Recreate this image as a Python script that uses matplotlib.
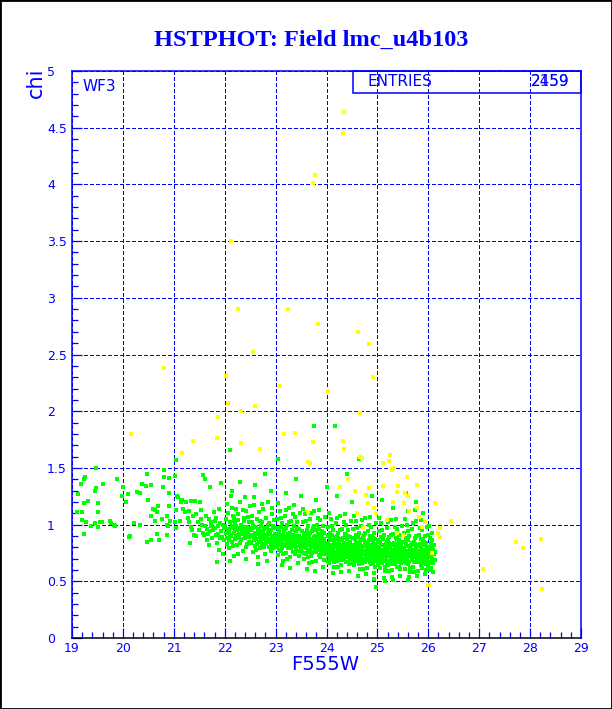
import matplotlib
matplotlib.use("Agg")
import matplotlib.pyplot as plt
from matplotlib.patches import Rectangle
from matplotlib.ticker import MultipleLocator, FuncFormatter

# ---- data ----
title = "HSTPHOT: Field lmc_u4b103"
x_label = "F555W"
y_label = "chi"
chip = "WF3"
entries = "2459"

green_19_22 = [
    (19.47, 1.50), (19.26, 1.42), (19.24, 1.40), (19.18, 1.36), (19.61, 1.36), (19.45, 1.30),
    (19.47, 1.32), (19.88, 1.40), (19.98, 1.25), (20.10, 1.27), (19.12, 1.27), (19.32, 1.21),
    (19.51, 1.19), (19.24, 1.19), (19.10, 1.11), (19.20, 1.11), (19.51, 1.11), (19.20, 1.04),
    (19.37, 0.99), (19.45, 1.01), (19.51, 0.98), (19.55, 1.02), (19.58, 1.02), (19.75, 1.03),
    (19.77, 1.01), (19.82, 1.00), (19.85, 0.99), (19.24, 0.92), (19.28, 1.02), (20.00, 1.33),
    (20.06, 1.20), (20.12, 0.89), (20.14, 0.90), (20.22, 1.01), (20.28, 1.29), (20.33, 1.28),
    (20.37, 1.36), (20.45, 1.34), (20.47, 1.45), (20.49, 1.22), (20.34, 1.00), (20.47, 0.85),
    (20.55, 0.86), (20.55, 1.35), (20.71, 0.86), (20.67, 0.92), (20.63, 1.03), (20.60, 1.14),
    (20.67, 1.11), (20.63, 1.13), (20.55, 1.08), (20.69, 1.16), (20.77, 1.05), (20.79, 1.33),
    (20.81, 1.48), (20.86, 0.91), (20.86, 1.00), (20.88, 0.99), (20.90, 1.28), (20.87, 1.08),
    (20.90, 1.41), (20.93, 1.03), (20.91, 1.16), (21.02, 1.43), (21.04, 1.57), (21.05, 1.13),
    (21.03, 1.02), (21.05, 0.97), (21.06, 1.25), (21.08, 1.24), (21.14, 1.21), (21.15, 1.20),
    (21.17, 1.22), (21.19, 1.14), (21.32, 0.84), (21.22, 1.11), (21.24, 1.20), (21.30, 1.12),
    (21.34, 1.21), (21.30, 1.02), (21.34, 0.98), (21.38, 1.08), (21.42, 1.21), (21.43, 1.09),
    (21.39, 0.91), (21.43, 0.90), (21.49, 0.95), (21.52, 1.20), (21.53, 1.13), (21.54, 1.05),
    (21.56, 1.00), (21.60, 0.91), (21.58, 1.44), (21.61, 1.40), (21.63, 1.08), (21.65, 0.96),
    (21.66, 0.86), (21.69, 1.05), (21.71, 1.33), (21.71, 0.94), (21.73, 0.99), (21.75, 0.88),
    (21.78, 1.11), (21.80, 1.03), (21.81, 0.97), (21.82, 0.91), (21.84, 0.84), (21.84, 0.67),
    (21.86, 0.99), (21.89, 0.78), (21.90, 0.88), (21.92, 1.37), (21.93, 0.94), (21.96, 1.00),
    (21.97, 0.74), (21.98, 0.86), (21.62, 0.99), (21.68, 0.92), (21.74, 1.02), (21.77, 0.95),
    (21.83, 1.06), (21.87, 0.92), (21.91, 1.01), (21.94, 0.89), (21.99, 0.97), (21.57, 0.93),
    (21.47, 1.02), (21.36, 0.95), (21.27, 1.06), (21.12, 1.03), (21.70, 0.82), (21.88, 1.14),
]

green_22_23 = [
    (22.02, 1.05), (22.04, 0.88), (22.05, 1.18), (22.07, 0.96), (22.08, 0.79), (22.10, 1.02),
    (22.11, 0.91), (22.12, 1.25), (22.14, 0.85), (22.15, 0.99), (22.16, 1.08), (22.18, 0.93),
    (22.19, 0.72), (22.20, 1.01), (22.21, 0.87), (22.23, 1.14), (22.24, 0.95), (22.25, 0.82),
    (22.27, 1.04), (22.28, 0.90), (22.29, 0.97), (22.31, 1.20), (22.32, 0.86), (22.33, 1.00),
    (22.35, 0.92), (22.36, 0.77), (22.37, 1.06), (22.39, 0.95), (22.40, 0.88), (22.41, 1.12),
    (22.43, 0.98), (22.44, 0.83), (22.45, 0.93), (22.47, 1.02), (22.48, 0.89), (22.49, 1.16),
    (22.03, 0.93), (22.06, 1.10), (22.09, 0.86), (22.13, 0.97), (22.17, 0.81), (22.22, 0.99),
    (22.26, 1.09), (22.30, 0.84), (22.34, 0.94), (22.38, 1.03), (22.42, 0.80), (22.46, 0.96),
    (22.01, 0.99), (22.12, 0.90), (22.18, 1.03), (22.24, 0.88), (22.29, 0.92), (22.36, 0.98),
    (22.44, 0.90), (22.08, 0.94), (22.20, 0.95), (22.33, 0.87), (22.47, 0.85), (22.15, 1.30),
    (22.39, 1.24), (22.27, 0.74), (22.11, 0.68), (22.42, 0.70), (22.05, 0.83), (22.23, 0.91),
    (22.35, 1.13), (22.48, 0.97), (22.14, 1.15), (22.31, 0.96), (22.40, 0.93), (22.19, 1.07),
    (22.26, 0.97), (22.45, 1.07),
    (22.51, 0.95), (22.52, 0.84), (22.53, 1.08), (22.54, 0.91), (22.55, 0.76), (22.56, 1.00),
    (22.57, 0.88), (22.58, 1.17), (22.59, 0.93), (22.60, 0.81), (22.61, 0.98), (22.62, 0.87),
    (22.63, 1.05), (22.64, 0.92), (22.65, 0.71), (22.66, 0.96), (22.67, 0.85), (22.68, 1.11),
    (22.69, 0.90), (22.70, 0.79), (22.71, 0.99), (22.72, 0.86), (22.73, 1.02), (22.74, 0.94),
    (22.75, 0.83), (22.76, 1.14), (22.77, 0.89), (22.78, 0.96), (22.79, 0.74), (22.80, 0.91),
    (22.81, 1.06), (22.82, 0.84), (22.83, 0.97), (22.84, 0.88), (22.85, 1.20), (22.86, 0.93),
    (22.87, 0.80), (22.88, 1.01), (22.89, 0.87), (22.90, 0.95), (22.91, 0.77), (22.92, 1.09),
    (22.93, 0.90), (22.94, 0.83), (22.95, 0.99), (22.96, 0.86), (22.97, 1.04), (22.98, 0.92),
    (22.99, 0.81), (22.52, 0.90), (22.55, 0.97), (22.58, 0.86), (22.61, 0.92), (22.64, 0.83),
    (22.67, 0.95), (22.70, 0.89), (22.73, 0.82), (22.76, 0.93), (22.79, 0.87), (22.82, 0.91),
    (22.85, 0.85), (22.88, 0.94), (22.91, 0.84), (22.94, 0.90), (22.97, 0.88), (22.57, 1.24),
    (22.66, 0.65), (22.74, 1.18), (22.83, 0.68), (22.92, 1.15), (22.54, 1.02), (22.62, 0.78),
    (22.69, 1.03), (22.77, 0.80), (22.86, 1.00), (22.95, 0.79), (22.60, 0.89), (22.71, 0.93),
    (22.80, 0.97), (22.89, 0.92), (22.98, 0.97),
]

green_23_24 = [
    (23.01, 0.92), (23.02, 0.80), (23.03, 1.05), (23.04, 0.87), (23.05, 0.73), (23.06, 0.95),
    (23.07, 0.83), (23.08, 1.12), (23.09, 0.89), (23.10, 0.77), (23.11, 0.98), (23.12, 0.85),
    (23.13, 1.01), (23.14, 0.91), (23.15, 0.68), (23.16, 0.94), (23.17, 0.81), (23.18, 1.08),
    (23.19, 0.88), (23.20, 0.75), (23.21, 0.97), (23.22, 0.84), (23.23, 1.00), (23.24, 0.90),
    (23.25, 0.79), (23.26, 1.15), (23.27, 0.86), (23.28, 0.93), (23.29, 0.71), (23.30, 0.88),
    (23.31, 1.03), (23.32, 0.82), (23.33, 0.95), (23.34, 0.87), (23.35, 0.76), (23.36, 0.99),
    (23.37, 0.83), (23.38, 1.07), (23.39, 0.90), (23.40, 0.78), (23.41, 0.94), (23.42, 0.85),
    (23.43, 1.02), (23.44, 0.89), (23.45, 0.72), (23.46, 0.96), (23.47, 0.81), (23.48, 1.10),
    (23.49, 0.87), (23.01, 0.84), (23.03, 0.90), (23.05, 0.86), (23.07, 0.93), (23.09, 0.82),
    (23.11, 0.88), (23.13, 0.79), (23.15, 0.91), (23.17, 0.87), (23.19, 0.83), (23.21, 0.90),
    (23.23, 0.86), (23.25, 0.92), (23.27, 0.80), (23.29, 0.89), (23.31, 0.85), (23.33, 0.81),
    (23.35, 0.91), (23.37, 0.88), (23.39, 0.84), (23.41, 0.80), (23.43, 0.87), (23.45, 0.90),
    (23.47, 0.86), (23.49, 0.79), (23.02, 0.97), (23.06, 0.78), (23.10, 1.06), (23.14, 0.74),
    (23.18, 0.96), (23.22, 0.70), (23.26, 1.02), (23.30, 0.79), (23.34, 1.09), (23.38, 0.74),
    (23.42, 0.97), (23.46, 0.77), (23.04, 1.19), (23.12, 0.64), (23.20, 1.13), (23.28, 0.62),
    (23.36, 1.17), (23.44, 0.66), (23.08, 0.86), (23.16, 0.88), (23.24, 0.83), (23.32, 0.89),
    (23.40, 0.86), (23.48, 0.84),
    (23.51, 0.88), (23.52, 0.76), (23.53, 1.02), (23.54, 0.84), (23.55, 0.70), (23.56, 0.93),
    (23.57, 0.80), (23.58, 1.09), (23.59, 0.86), (23.60, 0.74), (23.61, 0.95), (23.62, 0.82),
    (23.63, 0.99), (23.64, 0.88), (23.65, 0.66), (23.66, 0.91), (23.67, 0.78), (23.68, 1.05),
    (23.69, 0.85), (23.70, 0.72), (23.71, 0.94), (23.72, 0.81), (23.73, 0.97), (23.74, 0.87),
    (23.75, 0.76), (23.76, 1.12), (23.77, 0.83), (23.78, 0.90), (23.79, 0.68), (23.80, 0.86),
    (23.81, 1.00), (23.82, 0.79), (23.83, 0.92), (23.84, 0.84), (23.85, 0.73), (23.86, 0.96),
    (23.87, 0.80), (23.88, 1.04), (23.89, 0.87), (23.90, 0.75), (23.91, 0.91), (23.92, 0.82),
    (23.93, 0.99), (23.94, 0.86), (23.95, 0.69), (23.96, 0.93), (23.97, 0.78), (23.98, 1.07),
    (23.99, 0.84), (23.51, 0.81), (23.53, 0.87), (23.55, 0.83), (23.57, 0.90), (23.59, 0.79),
    (23.61, 0.85), (23.63, 0.76), (23.65, 0.88), (23.67, 0.84), (23.69, 0.80), (23.71, 0.87),
    (23.73, 0.83), (23.75, 0.89), (23.77, 0.77), (23.79, 0.86), (23.81, 0.82), (23.83, 0.78),
    (23.85, 0.88), (23.87, 0.85), (23.89, 0.81), (23.91, 0.77), (23.93, 0.84), (23.95, 0.87),
    (23.97, 0.83), (23.99, 0.76), (23.52, 0.94), (23.56, 0.75), (23.60, 1.03), (23.64, 0.71),
    (23.68, 0.93), (23.72, 0.67), (23.76, 0.99), (23.80, 0.76), (23.84, 1.06), (23.88, 0.71),
    (23.92, 0.94), (23.96, 0.74), (23.54, 1.14), (23.62, 0.61), (23.70, 1.10), (23.78, 0.59),
    (23.86, 1.13), (23.94, 0.63), (23.58, 0.82), (23.66, 0.85), (23.74, 0.80), (23.82, 0.86),
    (23.90, 0.83), (23.98, 0.80), (23.55, 0.89), (23.63, 0.92), (23.71, 0.75), (23.79, 0.95),
    (23.87, 0.91), (23.95, 0.79),
]

green_24_25 = [
    (24.01, 0.84), (24.02, 0.72), (24.03, 0.98), (24.04, 0.80), (24.05, 0.66), (24.06, 0.89),
    (24.07, 0.76), (24.08, 1.05), (24.09, 0.82), (24.10, 0.70), (24.11, 0.91), (24.12, 0.78),
    (24.13, 0.95), (24.14, 0.84), (24.15, 0.63), (24.16, 0.87), (24.17, 0.74), (24.18, 1.01),
    (24.19, 0.81), (24.20, 0.68), (24.21, 0.90), (24.22, 0.77), (24.23, 0.93), (24.24, 0.83),
    (24.25, 0.72), (24.26, 1.08), (24.27, 0.79), (24.28, 0.86), (24.29, 0.64), (24.30, 0.82),
    (24.31, 0.96), (24.32, 0.75), (24.33, 0.88), (24.34, 0.80), (24.35, 0.69), (24.36, 0.92),
    (24.37, 0.76), (24.38, 1.00), (24.39, 0.83), (24.40, 0.71), (24.41, 0.87), (24.42, 0.78),
    (24.43, 0.95), (24.44, 0.82), (24.45, 0.65), (24.46, 0.89), (24.47, 0.74), (24.48, 1.03),
    (24.49, 0.80), (24.01, 0.77), (24.03, 0.83), (24.05, 0.79), (24.07, 0.86), (24.09, 0.75),
    (24.11, 0.81), (24.13, 0.72), (24.15, 0.84), (24.17, 0.80), (24.19, 0.76), (24.21, 0.83),
    (24.23, 0.79), (24.25, 0.85), (24.27, 0.73), (24.29, 0.82), (24.31, 0.78), (24.33, 0.74),
    (24.35, 0.84), (24.37, 0.81), (24.39, 0.77), (24.41, 0.73), (24.43, 0.80), (24.45, 0.83),
    (24.47, 0.79), (24.49, 0.72), (24.02, 0.90), (24.06, 0.71), (24.10, 0.99), (24.14, 0.67),
    (24.18, 0.89), (24.22, 0.63), (24.26, 0.95), (24.30, 0.72), (24.34, 1.02), (24.38, 0.67),
    (24.42, 0.90), (24.46, 0.70), (24.04, 1.10), (24.12, 0.57), (24.20, 1.06), (24.28, 0.58),
    (24.36, 1.09), (24.44, 0.59), (24.08, 0.78), (24.16, 0.81), (24.24, 0.76), (24.32, 0.82),
    (24.40, 0.79), (24.48, 0.76), (24.05, 0.74), (24.13, 0.77), (24.21, 0.72), (24.29, 0.75),
    (24.37, 0.73), (24.45, 0.76), (24.02, 0.68), (24.10, 0.74), (24.18, 0.70), (24.26, 0.69),
    (24.34, 0.71), (24.42, 0.67), (24.07, 0.93), (24.15, 0.86), (24.23, 0.88), (24.31, 0.87),
    (24.39, 0.91), (24.47, 0.85),
    (24.51, 0.82), (24.52, 0.70), (24.53, 0.96), (24.54, 0.78), (24.55, 0.64), (24.56, 0.87),
    (24.57, 0.74), (24.58, 1.03), (24.59, 0.80), (24.60, 0.68), (24.61, 0.89), (24.62, 0.76),
    (24.63, 0.93), (24.64, 0.82), (24.65, 0.61), (24.66, 0.85), (24.67, 0.72), (24.68, 0.99),
    (24.69, 0.79), (24.70, 0.66), (24.71, 0.88), (24.72, 0.75), (24.73, 0.91), (24.74, 0.81),
    (24.75, 0.70), (24.76, 1.06), (24.77, 0.77), (24.78, 0.84), (24.79, 0.62), (24.80, 0.80),
    (24.81, 0.94), (24.82, 0.73), (24.83, 0.86), (24.84, 0.78), (24.85, 0.67), (24.86, 0.90),
    (24.87, 0.74), (24.88, 0.98), (24.89, 0.81), (24.90, 0.69), (24.91, 0.85), (24.92, 0.76),
    (24.93, 0.93), (24.94, 0.80), (24.95, 0.63), (24.96, 0.87), (24.97, 0.72), (24.98, 1.01),
    (24.99, 0.78), (24.51, 0.75), (24.53, 0.81), (24.55, 0.77), (24.57, 0.84), (24.59, 0.73),
    (24.61, 0.79), (24.63, 0.70), (24.65, 0.82), (24.67, 0.78), (24.69, 0.74), (24.71, 0.81),
    (24.73, 0.77), (24.75, 0.83), (24.77, 0.71), (24.79, 0.80), (24.81, 0.76), (24.83, 0.72),
    (24.85, 0.82), (24.87, 0.79), (24.89, 0.75), (24.91, 0.71), (24.93, 0.78), (24.95, 0.81),
    (24.97, 0.77), (24.99, 0.70), (24.52, 0.88), (24.56, 0.69), (24.60, 0.97), (24.64, 0.65),
    (24.68, 0.87), (24.72, 0.61), (24.76, 0.93), (24.80, 0.70), (24.84, 1.00), (24.88, 0.65),
    (24.92, 0.88), (24.96, 0.68), (24.54, 1.08), (24.62, 0.55), (24.70, 1.04), (24.78, 0.56),
    (24.86, 1.07), (24.94, 0.57), (24.58, 0.76), (24.66, 0.79), (24.74, 0.74), (24.82, 0.80),
    (24.90, 0.77), (24.98, 0.74), (24.55, 0.72), (24.63, 0.75), (24.71, 0.70), (24.79, 0.73),
    (24.87, 0.71), (24.95, 0.74), (24.52, 0.66), (24.60, 0.72), (24.68, 0.68), (24.76, 0.67),
    (24.84, 0.69), (24.92, 0.65), (24.57, 0.91), (24.65, 0.84), (24.73, 0.86), (24.81, 0.85),
    (24.89, 0.89), (24.97, 0.83), (24.93, 0.52), (24.97, 0.45),
]

green_25_26 = [
    (25.01, 0.80), (25.02, 0.68), (25.03, 0.94), (25.04, 0.76), (25.05, 0.62), (25.06, 0.85),
    (25.07, 0.72), (25.08, 1.01), (25.09, 0.78), (25.10, 0.66), (25.11, 0.87), (25.12, 0.74),
    (25.13, 0.91), (25.14, 0.80), (25.15, 0.59), (25.16, 0.83), (25.17, 0.70), (25.18, 0.97),
    (25.19, 0.77), (25.20, 0.64), (25.21, 0.86), (25.22, 0.73), (25.23, 0.89), (25.24, 0.79),
    (25.25, 0.68), (25.26, 1.04), (25.27, 0.75), (25.28, 0.82), (25.29, 0.60), (25.30, 0.78),
    (25.31, 0.92), (25.32, 0.71), (25.33, 0.84), (25.34, 0.76), (25.35, 0.65), (25.36, 0.88),
    (25.37, 0.72), (25.38, 0.96), (25.39, 0.79), (25.40, 0.67), (25.41, 0.83), (25.42, 0.74),
    (25.43, 0.91), (25.44, 0.78), (25.45, 0.61), (25.46, 0.85), (25.47, 0.70), (25.48, 0.99),
    (25.49, 0.76), (25.01, 0.73), (25.03, 0.79), (25.05, 0.75), (25.07, 0.82), (25.09, 0.71),
    (25.11, 0.77), (25.13, 0.68), (25.15, 0.80), (25.17, 0.76), (25.19, 0.72), (25.21, 0.79),
    (25.23, 0.75), (25.25, 0.81), (25.27, 0.69), (25.29, 0.78), (25.31, 0.74), (25.33, 0.70),
    (25.35, 0.80), (25.37, 0.77), (25.39, 0.73), (25.41, 0.69), (25.43, 0.76), (25.45, 0.79),
    (25.47, 0.75), (25.49, 0.68), (25.02, 0.86), (25.06, 0.67), (25.10, 0.95), (25.14, 0.63),
    (25.18, 0.85), (25.22, 0.59), (25.26, 0.91), (25.30, 0.68), (25.34, 0.98), (25.38, 0.63),
    (25.42, 0.86), (25.46, 0.66), (25.04, 1.06), (25.12, 0.53), (25.20, 1.02), (25.28, 0.54),
    (25.36, 1.05), (25.44, 0.55), (25.08, 0.74), (25.16, 0.77), (25.24, 0.72), (25.32, 0.78),
    (25.40, 0.75), (25.48, 0.72), (25.05, 0.70), (25.13, 0.73), (25.21, 0.68), (25.29, 0.71),
    (25.37, 0.69), (25.45, 0.72), (25.02, 0.64), (25.10, 0.70), (25.18, 0.66), (25.26, 0.65),
    (25.34, 0.67), (25.42, 0.63), (25.07, 0.89), (25.15, 0.82), (25.23, 0.84), (25.31, 0.83),
    (25.39, 0.87), (25.47, 0.81), (25.14, 0.50), (25.30, 0.51),
    (25.51, 0.79), (25.52, 0.67), (25.53, 0.93), (25.54, 0.75), (25.55, 0.61), (25.56, 0.84),
    (25.57, 0.71), (25.58, 1.00), (25.59, 0.77), (25.60, 0.65), (25.61, 0.86), (25.62, 0.73),
    (25.63, 0.90), (25.64, 0.79), (25.65, 0.58), (25.66, 0.82), (25.67, 0.69), (25.68, 0.96),
    (25.69, 0.76), (25.70, 0.63), (25.71, 0.85), (25.72, 0.72), (25.73, 0.88), (25.74, 0.78),
    (25.75, 0.67), (25.76, 1.03), (25.77, 0.74), (25.78, 0.81), (25.79, 0.59), (25.80, 0.77),
    (25.81, 0.91), (25.82, 0.70), (25.83, 0.83), (25.84, 0.75), (25.85, 0.64), (25.86, 0.87),
    (25.87, 0.71), (25.88, 0.95), (25.89, 0.78), (25.90, 0.66), (25.91, 0.82), (25.92, 0.73),
    (25.93, 0.90), (25.94, 0.77), (25.95, 0.60), (25.96, 0.84), (25.97, 0.69), (25.98, 0.98),
    (25.99, 0.75), (26.00, 0.63), (26.01, 0.80), (26.02, 0.72), (26.03, 0.88), (26.04, 0.76),
    (26.05, 0.62), (26.06, 0.83), (26.07, 0.70), (26.08, 0.93), (26.09, 0.78), (26.10, 0.66),
    (26.11, 0.74), (26.12, 0.82), (26.13, 0.69), (26.14, 0.76), (25.51, 0.72), (25.53, 0.78),
    (25.55, 0.74), (25.57, 0.81), (25.59, 0.70), (25.61, 0.76), (25.63, 0.67), (25.65, 0.79),
    (25.67, 0.75), (25.69, 0.71), (25.71, 0.78), (25.73, 0.74), (25.75, 0.80), (25.77, 0.68),
    (25.79, 0.77), (25.81, 0.73), (25.83, 0.69), (25.85, 0.79), (25.87, 0.76), (25.89, 0.72),
    (25.91, 0.68), (25.93, 0.75), (25.95, 0.78), (25.97, 0.74), (25.99, 0.67), (26.01, 0.73),
    (26.03, 0.77), (26.05, 0.71), (26.07, 0.79), (26.09, 0.68), (25.52, 0.85), (25.56, 0.66),
    (25.60, 0.94), (25.64, 0.62), (25.68, 0.84), (25.72, 0.58), (25.76, 0.90), (25.80, 0.67),
    (25.84, 0.97), (25.88, 0.62), (25.92, 0.85), (25.96, 0.65), (26.00, 0.91), (26.04, 0.60),
    (26.08, 0.86), (25.54, 1.05), (25.62, 0.54), (25.70, 1.01), (25.78, 0.55), (25.86, 1.04),
    (25.94, 0.56), (26.02, 0.99), (26.10, 0.58), (25.58, 0.73), (25.66, 0.76), (25.74, 0.71),
    (25.82, 0.77), (25.90, 0.74), (25.98, 0.71), (26.06, 0.75), (25.55, 0.69), (25.63, 0.72),
    (25.71, 0.67), (25.79, 0.70), (25.87, 0.68), (25.95, 0.71), (26.03, 0.66), (25.57, 0.88),
    (25.65, 0.81), (25.73, 0.83), (25.81, 0.82), (25.89, 0.86), (25.97, 0.80), (26.05, 0.84),
    (25.60, 0.51),
]

green_high = [
    (22.10, 1.66), (23.75, 1.87), (24.17, 1.87), (23.05, 1.58), (24.64, 1.58), (20.80, 1.42),
    (22.60, 1.35), (22.90, 1.30), (23.20, 1.28), (23.50, 1.25), (23.80, 1.22), (24.20, 1.25),
    (24.50, 1.20), (24.90, 1.25), (25.30, 1.15), (25.60, 1.12), (25.90, 1.10), (22.30, 1.38),
    (23.40, 1.40), (24.00, 1.33), (25.10, 1.22), (25.75, 1.20), (22.80, 1.45), (24.40, 1.45),
    (25.56, 1.28), (25.74, 1.13),
]

yellow_pts = [
    (24.34, 4.64), (24.32, 4.45), (23.77, 4.08), (23.73, 4.01), (22.13, 3.50), (22.26, 2.90),
    (23.24, 2.90), (23.83, 2.77), (24.62, 2.70), (24.83, 2.59), (20.81, 2.38), (22.56, 2.52),
    (22.03, 2.31), (23.09, 2.22), (24.03, 2.18), (24.91, 2.30), (22.06, 2.07), (22.32, 2.00),
    (22.60, 2.05), (21.87, 1.95), (24.66, 1.98), (21.38, 1.74), (21.16, 1.63), (21.85, 1.76),
    (22.32, 1.72), (22.69, 1.67), (23.16, 1.80), (23.38, 1.81), (23.73, 1.73), (24.32, 1.74),
    (24.34, 1.67), (24.70, 1.59), (25.23, 1.56), (25.25, 1.61), (25.29, 1.48), (23.64, 1.55),
    (23.68, 1.54), (25.58, 1.42), (25.11, 1.54), (24.42, 1.40), (20.16, 1.80), (24.66, 1.60),
    (25.31, 1.50), (24.27, 1.33), (24.56, 1.30), (24.83, 1.32), (24.77, 1.26), (24.81, 1.19),
    (25.11, 1.34), (25.40, 1.34), (25.38, 1.29), (25.54, 1.28), (25.31, 1.20), (25.52, 1.19),
    (24.93, 1.15), (24.60, 1.10), (24.97, 1.10), (25.19, 1.04), (25.62, 1.12), (25.78, 1.15),
    (25.82, 1.07), (25.94, 1.02), (25.38, 0.93), (25.50, 0.91), (25.88, 0.98), (26.13, 1.19),
    (26.23, 0.97), (26.19, 0.93), (26.23, 0.89), (26.07, 0.75), (25.99, 0.47), (23.64, 1.11),
    (24.72, 0.98), (25.78, 1.35), (26.45, 1.03), (27.72, 0.85), (27.86, 0.79), (27.07, 0.61),
    (28.21, 0.87), (28.23, 0.43), (25.60, 1.25), (26.01, 0.47),
]

BLUE = "#0000ff"
GREEN = "#00ff00"
YELLOW = "#ffff00"

fig = plt.figure(figsize=(6.12, 7.09), dpi=100)
ax = fig.add_axes([72 / 612, 1 - 638 / 709, 509 / 612, 567 / 709])

greens = green_19_22 + green_22_23 + green_23_24 + green_24_25 + green_25_26 + green_high
gx = [p[0] for p in greens]
gy = [p[1] for p in greens]
yx = [p[0] for p in yellow_pts]
yy = [p[1] for p in yellow_pts]

# crisp pixel squares like the original PAW markers
ax.scatter(gx, gy, s=5.2, marker="s", color=GREEN, linewidths=0, antialiased=False, zorder=3)
ax.scatter(yx, yy, s=6.5, marker="s", color=YELLOW, linewidths=0, antialiased=False, zorder=3)

ax.set_xlim(19, 29)
ax.set_ylim(0, 5)
ax.xaxis.set_major_locator(MultipleLocator(1))
ax.xaxis.set_minor_locator(MultipleLocator(0.2))
ax.yaxis.set_major_locator(MultipleLocator(0.5))
ax.yaxis.set_minor_locator(MultipleLocator(0.1))
ax.yaxis.set_major_formatter(FuncFormatter(lambda v, p: "%g" % v))
ax.xaxis.set_major_formatter(FuncFormatter(lambda v, p: "%g" % v))

# PAW-style dotted blue grid, drawn crisp
ax.grid(True, which="major", color=BLUE, linestyle=(0, (3, 2)), linewidth=0.75,
        antialiased=False, zorder=1)
ax.tick_params(which="both", direction="in", color=BLUE, labelcolor=BLUE, labelsize=9,
               top=False, right=False)
ax.tick_params(which="major", length=7, width=0.9)
ax.tick_params(which="minor", length=4.5, width=0.9)
ax.tick_params(axis="y", which="major", pad=18)
ax.tick_params(axis="x", which="major", pad=3)
for lab in ax.get_yticklabels():
    lab.set_horizontalalignment("left")

for side in ["left", "top", "right"]:
    ax.spines[side].set_color(BLUE)
    ax.spines[side].set_linewidth(1.1)
ax.spines["bottom"].set_color("black")
ax.spines["bottom"].set_linewidth(1.1)

# chip label and stats box
ax.text(0.02, 0.972, chip, transform=ax.transAxes, color=BLUE, fontsize=11,
        ha="left", va="center")
ax.add_patch(Rectangle((0.552, 0.961), 0.448, 0.039, transform=ax.transAxes,
                       fill=False, edgecolor=BLUE, linewidth=1.1, clip_on=False, zorder=5))
ax.text(0.58, 0.9806, "ENTRIES", transform=ax.transAxes, color=BLUE, fontsize=11,
        ha="left", va="center")
ax.text(0.978, 0.9806, entries, transform=ax.transAxes, color=BLUE, fontsize=11,
        ha="right", va="center")
ax.text(0.978, 0.9806, "2159", transform=ax.transAxes, color=BLUE, fontsize=11,
        ha="right", va="center", alpha=0.8)

fig.text(311 / 612, 1 - 40 / 709, title, color=BLUE, fontsize=17.5, fontweight="bold",
         family="Liberation Serif", ha="center", va="center")
fig.text(325 / 612, 1 - 665 / 709, x_label, color=BLUE, fontsize=14, ha="center", va="center")
fig.text(36 / 612, 1 - 68 / 709, y_label, color=BLUE, fontsize=15, rotation=90,
         ha="center", va="top")

fig.patches.append(Rectangle((0, 0), 1, 1, transform=fig.transFigure, fill=False,
                             edgecolor="black", linewidth=2))

fig.savefig("out.png", dpi=100)
